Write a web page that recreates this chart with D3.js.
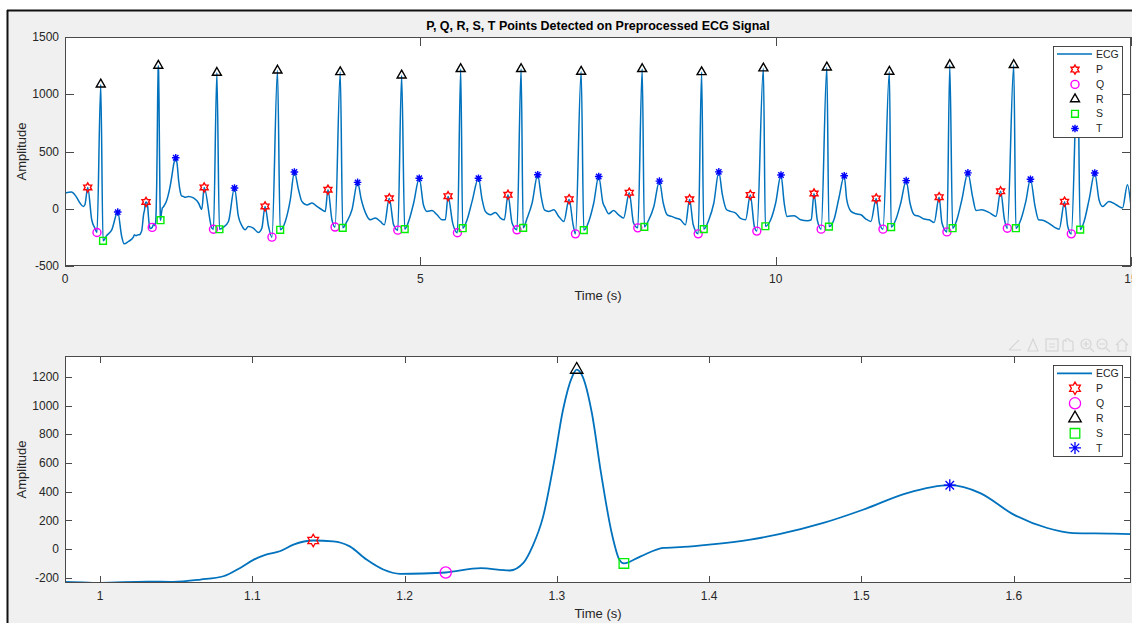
<!DOCTYPE html>
<html><head><meta charset="utf-8">
<script src="https://cdn.jsdelivr.net/npm/d3@7"></script>
<style>
body{margin:0;background:#fff;}
svg{display:block;font-family:"Liberation Sans",Arial,Helvetica,sans-serif;}
</style>
</head><body>
<svg id="chart" width="1132" height="623"></svg>
<script>
// ---------------- DATA ----------------
const titleText = "P, Q, R, S, T Points Detected on Preprocessed ECG Signal";
const xLabel = "Time (s)";
const yLabel = "Amplitude";
const legendLabels = ["ECG", "P", "Q", "R", "S", "T"];

// ECG waveform vertices (time s, amplitude) between the detected points
const ecgBase = [
  [0.00,137],[0.09,146],[0.155,108],[0.21,50],[0.258,20],[0.28,35],
  [0.376,-96],[0.42,-169],[0.587,-234],[0.658,-184],
  [0.798,-242],[0.831,-306],[0.892,-286],[0.962,-248],
  [0.977,-228],[1.0,-235],[1.031,-226],[1.048,-228],[1.066,-212],[1.081,-189],[1.092,-131],
  [1.101,-73],[1.109,-38],[1.118,-15],[1.127,31],[1.153,54],[1.164,19],[1.175,-73],
  [1.186,-142],[1.197,-172],[1.212,-170],[1.25,-133],[1.269,-149],[1.278,-96],[1.284,19],
  [1.291,228],[1.298,599],[1.304,969],[1.31,1200],[1.317,1200],[1.323,946],[1.329,529],
  [1.336,112],[1.341,-73],[1.355,-50],[1.37,8],[1.383,15],[1.40,31],[1.427,66],[1.446,104],
  [1.475,182],[1.501,274],[1.53,390],[1.578,390],[1.6,240],[1.622,147],[1.639,112],
  [1.665,108],[1.69,100],[1.737,108],[1.808,94],[1.878,50],[1.925,-5],
  [2.066,-169],[2.23,-160],[2.30,-111],[2.44,-67],[2.49,-150],[2.535,-184],[2.58,-155],
  [2.65,-169],[2.72,-207],[2.77,-169],
  [2.864,-155],[3.10,-111],[3.17,77],[3.286,166],[3.333,64],[3.404,33],[3.475,50],
  [3.545,20],[3.615,-9],[3.662,-23],
  [3.756,-96],[3.967,-111],[4.038,-9],[4.17,79],[4.23,-38],[4.296,-96],[4.366,-81],
  [4.437,-111],[4.493,-140],
  [4.624,-140],[4.835,-111],[4.906,50],[5.045,30],[5.094,-23],[5.164,-15],[5.235,-53],
  [5.305,-96],[5.352,-96],
  [5.455,-125],[5.658,-96],[5.728,64],[5.87,79],[5.915,-23],[5.986,-53],[6.056,-32],
  [6.127,-81],[6.183,-96],
  [6.291,-125],[6.503,-81],[6.573,50],[6.70,108],[6.746,-9],[6.807,-23],[6.878,-9],
  [6.948,-67],[7.019,-111],
  [7.15,-140],[7.37,-111],[7.44,50],[7.57,50],[7.60,10],[7.65,-44],[7.72,-15],
  [7.79,-53],[7.86,-81],
  [8.0,-125],[8.215,-96],[8.286,20],[8.418,50],[8.474,-53],[8.535,-67],[8.59,-81],
  [8.66,-96],[8.73,-140],
  [8.84,-140],[9.06,-96],[9.13,50],[9.25,123],[9.31,-9],[9.366,-23],[9.437,-38],
  [9.50,-81],[9.577,-96],
  [9.70,-155],[9.93,-96],[10.0,50],[10.12,50],[10.16,-67],[10.26,-61],[10.35,-96],
  [10.45,-105],[10.50,-96],
  [10.585,-96],[10.82,-96],[10.89,94],[11.0,79],[11.06,-23],[11.13,-44],[11.2,-53],
  [11.27,-90],[11.34,-111],
  [11.46,-125],[11.69,-96],[11.76,50],[11.89,50],[11.95,-53],[12.02,-67],[12.09,-90],
  [12.16,-96],[12.23,-120],
  [12.34,-125],[12.55,-96],[12.62,79],[12.77,108],[12.82,-15],[12.90,-9],[13.0,-32],
  [13.1,-67],
  [13.22,-96],[13.45,-96],[13.52,64],[13.65,20],[13.70,-96],[13.77,-102],[13.84,-125],
  [13.92,-160],[13.99,-178],
  [14.11,-155],[14.34,-111],[14.41,79],[14.55,79],[14.60,20],[14.69,64],[14.79,35],
  [14.88,6],[14.95,210],[15.0,20]
];

// Detected points
const pTime = [0.32,1.14,1.958,2.815,3.70,4.563,5.39,6.233,7.093,7.94,8.789,9.643,10.54,11.415,12.30,13.165,14.065];
const pAmp  = [186,60,186,20,166,91,110,122,84,140,82,121,133,90,101,152,62];
const qTime = [0.45,1.227,2.089,2.912,3.80,4.683,5.522,6.36,7.183,8.06,8.91,9.735,10.64,11.51,12.41,13.26,14.16];
const qAmp  = [-207,-163,-179,-248,-160,-187,-210,-184,-219,-167,-219,-195,-178,-178,-202,-170,-219];
const rTime = [0.503,1.313,2.137,2.99,3.873,4.737,5.568,6.418,7.263,8.122,8.958,9.827,10.72,11.60,12.45,13.35,14.25];
const rAmp  = [1086,1250,1188,1208,1194,1165,1221,1221,1198,1221,1194,1227,1235,1198,1256,1256,1240];
const sTime = [0.535,1.344,2.173,3.028,3.908,4.78,5.596,6.447,7.30,8.152,8.988,9.855,10.75,11.625,12.49,13.38,14.285];
const sAmp  = [-280,-100,-179,-184,-167,-178,-170,-167,-187,-158,-178,-153,-156,-160,-170,-170,-182];
const tTime = [0.742,1.558,2.385,3.228,4.117,4.985,5.818,6.652,7.51,8.364,9.20,10.075,10.965,11.837,12.705,13.585,14.49];
const tAmp  = [-29,445,181,321,230,266,266,297,282,241,322,295,288,246,313,258,312];

// Axis settings
const topXDomain = [0, 15];
const topYDomain = [-500, 1500];
const topXTicks = [0, 5, 10, 15];
const topYTicks = [-500, 0, 500, 1000, 1500];
const botXDomain = [0.977, 1.677];
const botYDomain = [-236, 1345];
const botXTicks = [1, 1.1, 1.2, 1.3, 1.4, 1.5, 1.6];
const botYTicks = [-200, 0, 200, 400, 600, 800, 1000, 1200];

// ---------------- BUILD ----------------
const markerSets = [
  {key:"P", t:pTime, v:pAmp, color:"#ff0000"},
  {key:"Q", t:qTime, v:qAmp, color:"#ff00ff"},
  {key:"R", t:rTime, v:rAmp, color:"#000000"},
  {key:"S", t:sTime, v:sAmp, color:"#00ee00"},
  {key:"T", t:tTime, v:tAmp, color:"#0000ff"}
];
const signal = ecgBase.map(d => ({t:d[0], v:d[1]}));
markerSets.forEach(m => m.t.forEach((t,i) => signal.push({t:t, v:m.v[i]})));
signal.sort((a,b) => a.t - b.t);

const svg = d3.select("#chart");
const W = 1132, H = 623;
const lineColor = "#0072BD";
const axisColor = "#4a4a4a";
const textColor = "#262626";

// figure background and frame
svg.append("rect").attr("x",0).attr("y",0).attr("width",W).attr("height",H).attr("fill","#ffffff");
svg.append("rect").attr("x",8).attr("y",11).attr("width",W-8).attr("height",H-11).attr("fill","#f0f0f0");
svg.append("line").attr("x1",7).attr("x2",W).attr("y1",10.5).attr("y2",10.5).attr("stroke","#111").attr("stroke-width",2);
svg.append("line").attr("x1",7.5).attr("x2",7.5).attr("y1",10).attr("y2",H).attr("stroke","#111").attr("stroke-width",2);

function markerPath(key, s) {
  if (key === "P") {
    const pts = [];
    for (let k = 0; k < 12; k++) {
      const a = (-90 + k*30) * Math.PI/180;
      const r = (k % 2 === 0) ? s : s*0.577;
      pts.push([r*Math.cos(a), r*Math.sin(a)]);
    }
    return "M" + pts.map(p => p[0].toFixed(2)+","+p[1].toFixed(2)).join("L") + "Z";
  }
  if (key === "Q") {
    return "M"+(-s)+",0A"+s+","+s+" 0 1,0 "+s+",0A"+s+","+s+" 0 1,0 "+(-s)+",0Z";
  }
  if (key === "R") {
    return "M0,"+(-s)+"L"+(s*0.866).toFixed(2)+","+(s*0.5)+"L"+(-s*0.866).toFixed(2)+","+(s*0.5)+"Z";
  }
  if (key === "S") {
    return "M"+(-s)+","+(-s)+"L"+s+","+(-s)+"L"+s+","+s+"L"+(-s)+","+s+"Z";
  }
  // T : asterisk
  const d = s*0.707;
  return "M"+(-s)+",0L"+s+",0M0,"+(-s)+"L0,"+s+"M"+(-d)+","+(-d)+"L"+d+","+d+"M"+(-d)+","+d+"L"+d+","+(-d);
}

const topSizes = {P:4.6, Q:4, R:5.2, S:3.4, T:3.8};
const botSizes = {P:6.2, Q:5.6, R:7.2, S:4.8, T:6};

function drawPanel(cfg) {
  const x = d3.scaleLinear().domain(cfg.xDomain).range([cfg.left, cfg.right]);
  const y = d3.scaleLinear().domain(cfg.yDomain).range([cfg.bottom, cfg.top]);
  const g = svg.append("g");
  const clipId = "clip" + cfg.id;
  svg.append("clipPath").attr("id", clipId).append("rect")
    .attr("x", cfg.left).attr("y", cfg.top)
    .attr("width", cfg.right - cfg.left).attr("height", cfg.bottom - cfg.top);

  g.append("rect").attr("x", cfg.left).attr("y", cfg.top)
    .attr("width", cfg.right - cfg.left).attr("height", cfg.bottom - cfg.top)
    .attr("fill", "#fff");

  // ticks (inward, all four sides)
  const tl = cfg.tickLen;
  const ax = g.append("g").attr("stroke", axisColor).attr("stroke-width", 1);
  cfg.xTicks.forEach(t => {
    const px = Math.round(x(t)) + 0.5;
    ax.append("line").attr("x1",px).attr("x2",px).attr("y1",cfg.bottom).attr("y2",cfg.bottom-tl);
    ax.append("line").attr("x1",px).attr("x2",px).attr("y1",cfg.top).attr("y2",cfg.top+tl);
  });
  cfg.yTicks.forEach(t => {
    const py = Math.round(y(t)) + 0.5;
    ax.append("line").attr("x1",cfg.left).attr("x2",cfg.left+tl).attr("y1",py).attr("y2",py);
    ax.append("line").attr("x1",cfg.right).attr("x2",cfg.right-tl).attr("y1",py).attr("y2",py);
  });

  // tick labels
  const fmtX = cfg.fmtX;
  cfg.xTicks.forEach(t => {
    g.append("text").attr("x", x(t)).attr("y", cfg.bottom + 17)
      .attr("text-anchor","middle").attr("font-size", 12).attr("fill", textColor).text(fmtX(t));
  });
  cfg.yTicks.forEach(t => {
    g.append("text").attr("x", cfg.left - 6).attr("y", y(t)).attr("dy","0.35em")
      .attr("text-anchor","end").attr("font-size", 12).attr("fill", textColor).text(t);
  });

  // axis labels
  g.append("text").attr("x", (cfg.left + cfg.right)/2).attr("y", cfg.xLabelY)
    .attr("text-anchor","middle").attr("font-size", 13).attr("fill", textColor).text(xLabel);
  g.append("text").attr("transform", "translate(" + 26 + "," + ((cfg.top + cfg.bottom)/2) + ") rotate(-90)")
    .attr("text-anchor","middle").attr("font-size", 13).attr("fill", textColor).text(yLabel);

  // line
  const inView = signal.filter((d,i,arr) => {
    const prev = arr[i-1], next = arr[i+1];
    return (d.t >= cfg.xDomain[0] && d.t <= cfg.xDomain[1]) ||
      (next && next.t >= cfg.xDomain[0] && d.t < cfg.xDomain[0]) ||
      (prev && prev.t <= cfg.xDomain[1] && d.t > cfg.xDomain[1]);
  });
  const line = d3.line().x(d => x(d.t)).y(d => y(d.v)).curve(d3.curveMonotoneX);
  g.append("path").datum(inView).attr("clip-path", "url(#" + clipId + ")")
    .attr("d", line).attr("fill","none").attr("stroke", lineColor)
    .attr("stroke-width", cfg.lineWidth).attr("stroke-linejoin","round");

  // markers
  const mg = g.append("g").attr("clip-path", "url(#" + clipId + ")");
  markerSets.forEach(m => {
    const pts = m.t.map((t,i) => ({t:t, v:m.v[i]}))
      .filter(d => d.t >= cfg.xDomain[0] && d.t <= cfg.xDomain[1]);
    mg.selectAll(null).data(pts).enter().append("path")
      .attr("transform", d => "translate(" + x(d.t) + "," + y(d.v) + ")")
      .attr("d", markerPath(m.key, cfg.sizes[m.key]))
      .attr("fill","none").attr("stroke", m.color).attr("stroke-width", cfg.markerWidth);
  });

  // box
  g.append("rect").attr("x", cfg.left + 0.5).attr("y", cfg.top + 0.5)
    .attr("width", cfg.right - cfg.left - 1).attr("height", cfg.bottom - cfg.top - 1)
    .attr("fill","none").attr("stroke", axisColor).attr("stroke-width", 1);

  // legend
  const L = cfg.legend;
  const lg = g.append("g");
  lg.append("rect").attr("x", L.x0 + 0.5).attr("y", L.y0 + 0.5).attr("width", L.x1 - L.x0).attr("height", L.y1 - L.y0)
    .attr("fill","#fff").attr("stroke","#333").attr("stroke-width", 0.9);
  legendLabels.forEach((lab, i) => {
    const yy = L.rows[i];
    if (i === 0) {
      lg.append("line").attr("x1", L.x0 + 4).attr("x2", L.x0 + 39).attr("y1", yy).attr("y2", yy)
        .attr("stroke", lineColor).attr("stroke-width", cfg.lineWidth);
    } else {
      const m = markerSets[i-1];
      lg.append("path").attr("transform", "translate(" + (L.x0 + 22) + "," + yy + ")")
        .attr("d", markerPath(m.key, cfg.sizes[m.key]))
        .attr("fill","none").attr("stroke", m.color).attr("stroke-width", cfg.markerWidth);
    }
    lg.append("text").attr("x", L.x0 + 43).attr("y", yy).attr("dy","0.35em")
      .attr("font-size", 10.5).attr("fill", textColor).text(lab);
  });
}

drawPanel({
  id: "top", left: 65, right: 1131, top: 37, bottom: 266,
  xDomain: topXDomain, yDomain: topYDomain, xTicks: topXTicks, yTicks: topYTicks,
  tickLen: 9, fmtX: d3.format("d"), xLabelY: 300, lineWidth: 1.5, markerWidth: 1.4,
  sizes: topSizes,
  legend: {x0: 1053, x1: 1122, y0: 46, y1: 137, rows: [54, 69.6, 84.4, 99.1, 113.8, 128.5]}
});

drawPanel({
  id: "bot", left: 65, right: 1131, top: 356, bottom: 583,
  xDomain: botXDomain, yDomain: botYDomain, xTicks: botXTicks, yTicks: botYTicks,
  tickLen: 7, fmtX: d3.format(".1~f"), xLabelY: 618, lineWidth: 1.8, markerWidth: 1.3,
  sizes: botSizes,
  legend: {x0: 1053, x1: 1122, y0: 365, y1: 456, rows: [373.3, 388.3, 403.3, 418.3, 433.3, 447.9]}
});

// title
svg.append("text").attr("x", 598).attr("y", 30).attr("text-anchor","middle")
  .attr("font-size", 12.5).attr("font-weight","bold").attr("fill","#000").text(titleText);

// faint axes toolbar
const tb = svg.append("g").attr("fill","none").attr("stroke","#d6d6d6").attr("stroke-width",1.2);
const tbX = [1015, 1033, 1052, 1068, 1087, 1103, 1122];
tbX.forEach((cx, i) => {
  const cy = 345;
  if (i === 0) { tb.append("path").attr("d", `M${cx-6},${cy+5}L${cx+4},${cy-5}M${cx-6},${cy+5}L${cx+6},${cy+5}`); }
  else if (i === 1) { tb.append("path").attr("d", `M${cx-5},${cy+6}L${cx},${cy-6}L${cx+5},${cy+6}Z`); }
  else if (i === 2) { tb.append("rect").attr("x",cx-6).attr("y",cy-6).attr("width",12).attr("height",12);
    tb.append("path").attr("d", `M${cx-3},${cy-1}H${cx+3}M${cx-3},${cy+2}H${cx+3}`); }
  else if (i === 3) { tb.append("path").attr("d", `M${cx-5},${cy+6}V${cy-2}Q${cx-5},${cy-6} ${cx-2},${cy-4}V${cy-6}Q${cx+1},${cy-7} ${cx+2},${cy-4}Q${cx+5},${cy-5} ${cx+5},${cy-1}V${cy+6}Z`); }
  else if (i === 4 || i === 5) { tb.append("circle").attr("cx",cx-1).attr("cy",cy-1).attr("r",5);
    tb.append("path").attr("d", `M${cx+3},${cy+3}L${cx+7},${cy+7}M${cx-4},${cy-1}H${cx+2}` + (i===4?`M${cx-1},${cy-4}V${cy+2}`:"")); }
  else { tb.append("path").attr("d", `M${cx-6},${cy}L${cx},${cy-6}L${cx+6},${cy}M${cx-4},${cy-1}V${cy+6}H${cx+4}V${cy-1}`); }
});
</script>
</body></html>
